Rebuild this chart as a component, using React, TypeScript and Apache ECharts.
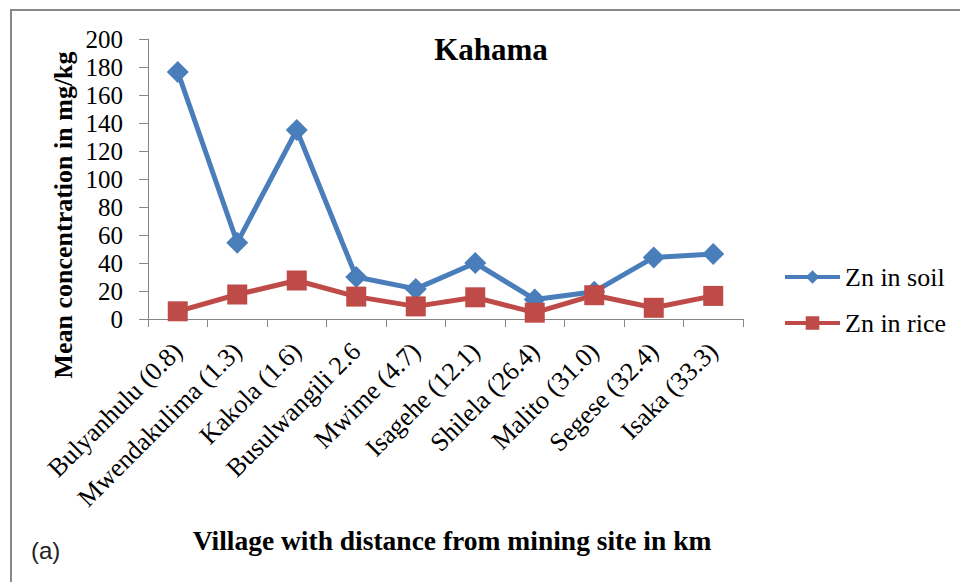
import React, { useEffect, useRef } from "react";
import * as echarts from "echarts";

const categories = [
  "Bulyanhulu (0.8)",
  "Mwendakulima (1.3)",
  "Kakola (1.6)",
  "Busulwangili 2.6",
  "Mwime (4.7)",
  "Isagehe (12.1)",
  "Shilela (26.4)",
  "Malito (31.0)",
  "Segese (32.4)",
  "Isaka (33.3)",
];
const znSoil = [176.5, 54.5, 135, 30, 21.5, 40, 14, 19.5, 44, 46.5];
const znRice = [5.5, 17.5, 27.5, 16, 9, 15.5, 4.5, 17, 8, 16.5];
const seriesNames = ["Zn in soil", "Zn in rice"];
const titleText = "Kahama";
const yAxisTitle = "Mean concentration in mg/kg";
const xAxisTitle = "Village with distance from mining site in km";
const panelLabel = "(a)";

const SERIF = "Liberation Serif";

export default function App() {
  const ref = useRef<HTMLDivElement>(null);
  useEffect(() => {
    if (!ref.current) return;
    const chart = echarts.init(ref.current, null, { renderer: "svg" });
    chart.setOption({
      animation: false,
      backgroundColor: "#ffffff",
      textStyle: { fontFamily: SERIF, color: "#000" },
      grid: { left: 148, right: 217, top: 39, bottom: 263, containLabel: false },
      legend: {
        orient: "vertical",
        left: 783,
        top: 264,
        padding: 0,
        itemWidth: 55,
        itemHeight: 17,
        itemGap: 20,
        data: seriesNames,
        lineStyle: { width: 4 },
        textStyle: { fontFamily: SERIF, fontSize: 26, color: "#000" },
      },
      xAxis: {
        type: "category",
        data: categories,
        boundaryGap: true,
        axisLine: { show: true, lineStyle: { color: "#868686", width: 1 } },
        axisTick: { show: true, length: 8, lineStyle: { color: "#868686" } },
        axisLabel: {
          rotate: 45,
          interval: 0,
          margin: 28,
          fontFamily: SERIF,
          fontSize: 26,
          color: "#000",
        },
        splitLine: { show: false },
      },
      yAxis: {
        type: "value",
        min: 0,
        max: 200,
        interval: 20,
        axisLine: { show: true, lineStyle: { color: "#868686", width: 1 } },
        axisTick: { show: true, length: 9, lineStyle: { color: "#868686" } },
        axisLabel: { margin: 25, fontFamily: SERIF, fontSize: 25, color: "#000" },
        splitLine: { show: false },
      },
      series: [
        {
          name: seriesNames[0],
          type: "line",
          data: znSoil,
          symbol: "diamond",
          symbolSize: 22,
          lineStyle: { color: "#4A7EBB", width: 5 },
          itemStyle: { color: "#4A7EBB" },
          z: 2,
        },
        {
          name: seriesNames[1],
          type: "line",
          data: znRice,
          symbol: "rect",
          symbolSize: 20,
          lineStyle: { color: "#BE4B48", width: 5 },
          itemStyle: { color: "#BE4B48" },
          z: 3,
        },
      ],
      graphic: [
        {
          type: "line",
          shape: { x1: 10, y1: 10, x2: 960, y2: 10 },
          style: { stroke: "#888888", lineWidth: 2 },
        },
        {
          type: "line",
          shape: { x1: 11, y1: 10, x2: 11, y2: 582 },
          style: { stroke: "#888888", lineWidth: 2 },
        },
        {
          type: "text",
          x: 491,
          y: 49,
          style: {
            text: titleText,
            fontFamily: SERIF,
            fontSize: 31,
            fontWeight: "bold",
            fill: "#000",
            align: "center",
            verticalAlign: "middle",
          },
        },
        {
          type: "text",
          x: 63,
          y: 215,
          rotation: Math.PI / 2,
          style: {
            text: yAxisTitle,
            fontFamily: SERIF,
            fontSize: 26,
            fontWeight: "bold",
            fill: "#000",
            align: "center",
            verticalAlign: "middle",
          },
        },
        {
          type: "text",
          x: 452,
          y: 540,
          style: {
            text: xAxisTitle,
            fontFamily: SERIF,
            fontSize: 27.5,
            fontWeight: "bold",
            fill: "#000",
            align: "center",
            verticalAlign: "middle",
          },
        },
        {
          type: "text",
          x: 31,
          y: 550,
          style: {
            text: panelLabel,
            fontFamily: "Liberation Sans",
            fontSize: 24,
            fill: "#222",
            align: "left",
            verticalAlign: "middle",
          },
        },
      ],
    });
    return () => chart.dispose();
  }, []);
  return (
    <div
      ref={ref}
      style={{ position: "fixed", left: 0, top: 0, width: 960, height: 582 }}
    />
  );
}
